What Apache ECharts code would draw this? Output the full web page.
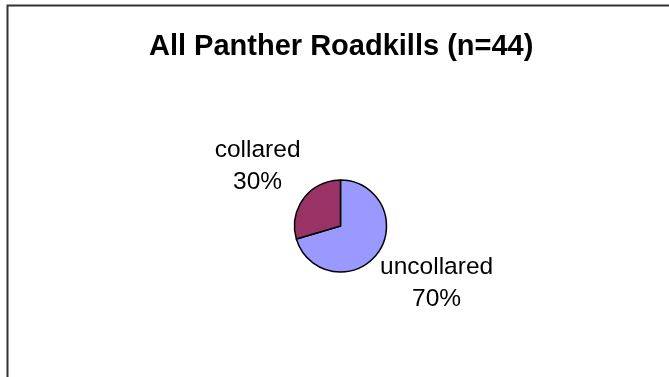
<!DOCTYPE html>
<html lang="en">
<head>
  <meta charset="UTF-8">
  <title>All Panther Roadkills</title>
  <style>
    html, body { margin: 0; padding: 0; background: #fff; }
    #main { width: 669px; height: 377px; }
  </style>
</head>
<body>
  <div id="main"></div>
  <script src="https://cdn.jsdelivr.net/npm/echarts@6/dist/echarts.min.js"></script>
  <script>
    var categories = ['uncollared', 'collared']
    var counts = [31, 13]
    var percentLabels = ['70%', '30%']
    var colors = ['#9999FF', '#993366']

    var pieCenter = [340.5, 226]
    var pieRadius = 46
    // small hand nudges so the labels sit where Excel put them
    var labelNudge = [[4.5, -11.5], [0, 2]]
    var total = counts.reduce(function (a, b) { return a + b }, 0)

    // mid angle of each slice (start at 12 o'clock, clockwise)
    function midAngle(idx) {
      var before = 0
      for (var i = 0; i < idx; i++) before += counts[i]
      var mid = before + counts[idx] / 2
      return Math.PI / 2 - mid / total * Math.PI * 2
    }

    var myChart = echarts.init(document.getElementById('main'))

    var option = {
      animation: false,
      title: {
        text: 'All Panther Roadkills (n=44)',
        left: 144,
        top: 27,
        textStyle: {
          fontFamily: 'Liberation Sans, Arial, sans-serif',
          fontSize: 29,
          fontWeight: 'bold',
          color: '#000'
        }
      },
      graphic: [
        {
          type: 'rect',
          shape: { x: 7.5, y: 5.5, width: 720, height: 500 },
          style: { fill: null, stroke: '#333', lineWidth: 2 },
          silent: true
        }
      ],
      series: [
        {
          type: 'pie',
          center: pieCenter,
          radius: pieRadius,
          startAngle: 90,
          clockwise: true,
          data: categories.map(function (c, i) {
            return { name: c, value: counts[i], itemStyle: { color: colors[i] } }
          }),
          itemStyle: { borderColor: '#000', borderWidth: 1.5 },
          label: {
            show: true,
            position: 'outside',
            formatter: function (p) {
              return p.name + '\n' + percentLabels[p.dataIndex]
            },
            fontFamily: 'Liberation Sans, Arial, sans-serif',
            fontSize: 24.5,
            lineHeight: 32,
            color: '#000',
            align: 'center'
          },
          labelLine: { show: false },
          labelLayout: function (params) {
            var a = midAngle(params.dataIndex)
            var cx = Math.cos(a), cy = -Math.sin(a)
            var w = params.labelRect.width, h = params.labelRect.height
            var d = pieRadius + 4 + Math.abs(cx) * w / 2 + Math.abs(cy) * h / 2
            var n = labelNudge[params.dataIndex]
            return {
              x: pieCenter[0] + cx * d + n[0],
              y: pieCenter[1] + cy * d + n[1],
              align: 'center',
              verticalAlign: 'middle'
            }
          },
          emphasis: { disabled: true }
        }
      ]
    }

    myChart.setOption(option)
  </script>
</body>
</html>
